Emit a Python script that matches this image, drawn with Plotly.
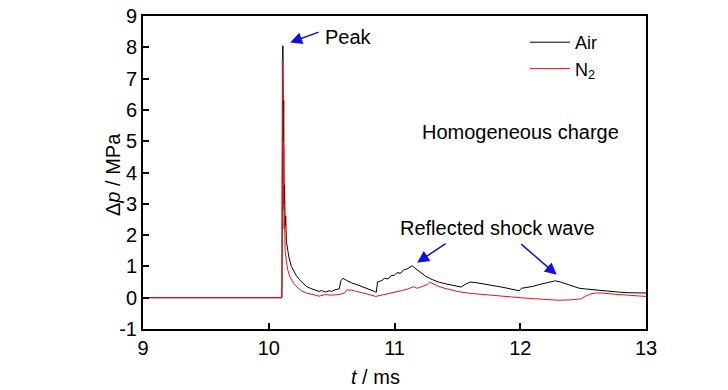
import plotly.graph_objects as go

# Air (black) trace
t_air = [9.0, 10.10, 10.105, 10.108, 10.112, 10.116, 10.119, 10.122, 10.126, 10.13, 10.135, 10.14,
         10.15, 10.16, 10.18, 10.2, 10.22, 10.25, 10.28, 10.3, 10.33, 10.36, 10.4, 10.42, 10.45,
         10.48, 10.5, 10.53, 10.56, 10.575, 10.59, 10.62, 10.66, 10.7, 10.75, 10.8, 10.84, 10.855,
         10.865, 10.9, 10.92, 10.95, 10.97, 11.0, 11.02, 11.05, 11.07, 11.1, 11.14, 11.17, 11.2,
         11.25, 11.3, 11.35, 11.4, 11.45, 11.5, 11.53, 11.56, 11.6, 11.65, 11.7, 11.75, 11.8,
         11.85, 11.9, 11.95, 11.99, 12.01, 12.05, 12.1, 12.15, 12.2, 12.25, 12.28, 12.32, 12.37,
         12.42, 12.47, 12.52, 12.57, 12.63, 12.7, 12.78, 12.85, 12.92, 13.0]
p_air = [0.0, 0.0, 0.0, 4.0, 8.05, 5.0, 6.3, 3.0, 3.6, 2.3, 2.6, 1.8,
         1.5, 1.3, 1.0, 0.85, 0.7, 0.55, 0.42, 0.36, 0.3, 0.25, 0.2, 0.23, 0.18,
         0.22, 0.2, 0.26, 0.28, 0.55, 0.62, 0.55, 0.47, 0.42, 0.35, 0.27, 0.2, 0.17,
         0.5, 0.55, 0.62, 0.6, 0.7, 0.72, 0.8, 0.78, 0.88, 0.92, 1.02, 0.92, 0.82,
         0.68, 0.58, 0.5, 0.45, 0.4, 0.36, 0.34, 0.42, 0.5, 0.48, 0.45, 0.42, 0.38,
         0.34, 0.3, 0.26, 0.22, 0.3, 0.32, 0.36, 0.42, 0.46, 0.5, 0.54, 0.5, 0.44,
         0.36, 0.3, 0.28, 0.26, 0.22, 0.2, 0.18, 0.16, 0.15, 0.15]

# N2 (red) trace
t_n2 = [9.0, 10.10, 10.105, 10.108, 10.111, 10.113, 10.116, 10.119, 10.122, 10.125, 10.13, 10.14,
        10.15, 10.17, 10.2, 10.23, 10.26, 10.3, 10.35, 10.4, 10.45, 10.5, 10.55, 10.6, 10.62,
        10.66, 10.7, 10.75, 10.8, 10.85, 10.9, 10.95, 11.0, 11.05, 11.1, 11.15, 11.18, 11.22,
        11.26, 11.28, 11.31, 11.35, 11.4, 11.45, 11.5, 11.6, 11.7, 11.8, 11.9, 12.0, 12.1,
        12.2, 12.3, 12.4, 12.48, 12.52, 12.56, 12.6, 12.65, 12.75, 12.85, 12.95, 13.0]
p_n2 = [0.0, 0.0, 0.5, 7.6, 3.5, 6.0, 2.8, 4.8, 2.2, 2.9, 1.5, 1.2,
        0.9, 0.65, 0.45, 0.32, 0.22, 0.15, 0.1, 0.05, 0.1, 0.08, 0.1, 0.14, 0.25,
        0.24, 0.2, 0.16, 0.1, 0.04, 0.08, 0.13, 0.18, 0.22, 0.27, 0.35, 0.3, 0.36,
        0.42, 0.5, 0.44, 0.36, 0.3, 0.25, 0.2, 0.14, 0.1, 0.06, 0.03, 0.0, -0.03,
        -0.06, -0.08, -0.07, -0.04, 0.05, 0.12, 0.15, 0.15, 0.11, 0.08, 0.05, 0.04]

x_ticks = [9, 10, 11, 12, 13]
y_ticks = [-1, 0, 1, 2, 3, 4, 5, 6, 7, 8, 9]
y_tick_labels = ["-1", "0", "1", "2", "3", "4", "5", "6", "7", "8", "9"]

FONT = "Arial, 'Liberation Sans', sans-serif"

fig = go.Figure()
fig.add_trace(go.Scatter(x=t_air, y=p_air, mode="lines", name="Air",
                         line=dict(color="black", width=1)))
fig.add_trace(go.Scatter(x=t_n2, y=p_n2, mode="lines", name="N<sub>2</sub>",
                         line=dict(color="#f01010", width=1)))

axis_common = dict(showgrid=False, zeroline=False, showline=True, linecolor="black",
                   linewidth=2, mirror=True, ticks="inside", ticklen=6, tickwidth=1.5,
                   tickcolor="black", automargin=False,
                   tickfont=dict(family=FONT, size=20, color="black"))
fig.update_xaxes(range=[9, 13], tickvals=x_ticks, **axis_common)
fig.update_yaxes(range=[-1, 9], tickvals=y_ticks, ticktext=y_tick_labels, **axis_common)

arrow = dict(showarrow=True, arrowhead=2, arrowsize=1.6, arrowwidth=1.5,
             arrowcolor="#1010e0", xref="x", yref="y", text="")
fig.add_annotation(x=10.17, y=8.15, ax=30, ay=-11, **arrow)
fig.add_annotation(x=11.18, y=1.12, ax=30, ay=-20, **arrow)
fig.add_annotation(x=12.29, y=0.73, ax=-37, ay=-32, **arrow)

txt = dict(showarrow=False, xref="paper", yref="paper", xanchor="center", yanchor="middle",
           font=dict(family=FONT, size=20, color="black"))
fig.add_annotation(x=(348 - 143) / 503, y=(329 - 37) / 313, text="Peak", **txt)
fig.add_annotation(x=(520 - 143) / 503, y=(329 - 132) / 313, text="Homogeneous charge", **txt)
fig.add_annotation(x=(497 - 143) / 503, y=(329 - 228) / 313, text="Reflected shock wave", **txt)
fig.add_annotation(x=(375 - 143) / 503, y=(329 - 377) / 313, text="<i>t</i> / ms", **txt)
fig.add_annotation(x=(113 - 143) / 503, y=(329 - 175) / 313, text="Δ<i>p</i> / MPa",
                   textangle=-90, **txt)

fig.update_layout(
    width=728, height=390,
    margin=dict(l=143, r=82, t=16, b=61, autoexpand=False),
    paper_bgcolor="white", plot_bgcolor="white",
    showlegend=True,
    legend=dict(x=(525 - 143) / 503, y=(329 - 24) / 313, xanchor="left", yanchor="top",
                bgcolor="rgba(0,0,0,0)", font=dict(family=FONT, size=18, color="black"),
                tracegroupgap=0, itemwidth=40),
)

fig.write_html("out.html", config={"displayModeBar": False},
               post_script="document.body.style.margin='0';")
